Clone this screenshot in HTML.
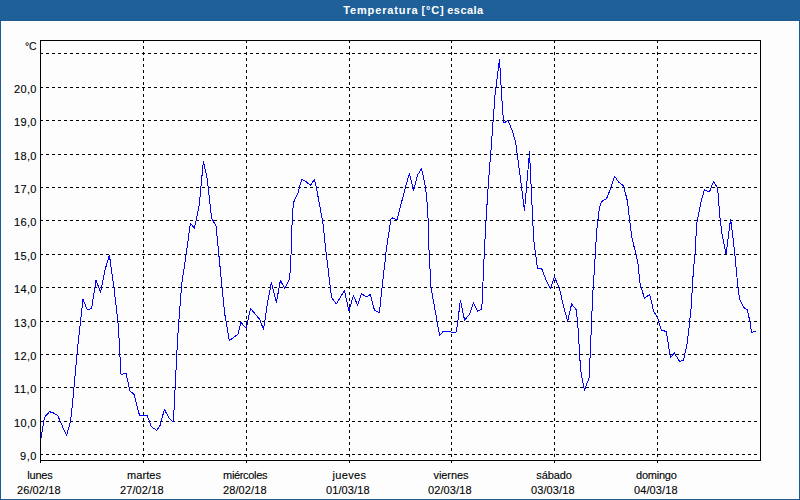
<!DOCTYPE html>
<html><head><meta charset="utf-8"><title>Temperatura [°C] escala</title>
<style>
html,body{margin:0;padding:0;width:800px;height:500px;overflow:hidden;background:#fcfdfc;}
svg{position:absolute;left:0;top:0;display:block}
text{font-family:"Liberation Sans",sans-serif;font-size:11px;fill:#000;stroke:#000;stroke-width:0.1px}
.t{font-weight:bold;fill:#fff;stroke:none}
</style></head><body>
<svg width="800" height="500" viewBox="0 0 800 500">
<defs><pattern id="dz" width="4" height="4" patternUnits="userSpaceOnUse"><rect width="4" height="4" fill="#1e5f96"/><rect x="0" y="1" width="1" height="1" fill="#2161ae"/><rect x="2" y="3" width="1" height="1" fill="#2161ae"/></pattern></defs>
<rect x="0" y="0" width="800" height="500" fill="#fcfdfc"/>
<g shape-rendering="crispEdges">
<rect x="0" y="0" width="800" height="20" fill="url(#dz)"/>
<rect x="0" y="20" width="800" height="1" fill="#1b5c94"/>
<rect x="0" y="20" width="1" height="480" fill="#1b5c94"/>
<rect x="799" y="20" width="1" height="480" fill="#1b5c94"/>
<rect x="0" y="499" width="800" height="1" fill="#1b5c94"/>
<rect x="1" y="21" width="798" height="1" fill="#fff"/><rect x="1" y="498" width="798" height="1" fill="#fff"/><rect x="1" y="21" width="1" height="478" fill="#fff"/><rect x="798" y="21" width="1" height="478" fill="#fff"/>
<line x1="40" y1="53.5" x2="760" y2="53.5" stroke="#000" stroke-width="1" stroke-dasharray="3 3"/>
<line x1="40" y1="87.5" x2="760" y2="87.5" stroke="#000" stroke-width="1" stroke-dasharray="3 3"/>
<line x1="40" y1="120.5" x2="760" y2="120.5" stroke="#000" stroke-width="1" stroke-dasharray="3 3"/>
<line x1="40" y1="154.5" x2="760" y2="154.5" stroke="#000" stroke-width="1" stroke-dasharray="3 3"/>
<line x1="40" y1="187.5" x2="760" y2="187.5" stroke="#000" stroke-width="1" stroke-dasharray="3 3"/>
<line x1="40" y1="220.5" x2="760" y2="220.5" stroke="#000" stroke-width="1" stroke-dasharray="3 3"/>
<line x1="40" y1="254.5" x2="760" y2="254.5" stroke="#000" stroke-width="1" stroke-dasharray="3 3"/>
<line x1="40" y1="287.5" x2="760" y2="287.5" stroke="#000" stroke-width="1" stroke-dasharray="3 3"/>
<line x1="40" y1="321.5" x2="760" y2="321.5" stroke="#000" stroke-width="1" stroke-dasharray="3 3"/>
<line x1="40" y1="354.5" x2="760" y2="354.5" stroke="#000" stroke-width="1" stroke-dasharray="3 3"/>
<line x1="40" y1="387.5" x2="760" y2="387.5" stroke="#000" stroke-width="1" stroke-dasharray="3 3"/>
<line x1="40" y1="421.5" x2="760" y2="421.5" stroke="#000" stroke-width="1" stroke-dasharray="3 3"/>
<line x1="40" y1="454.5" x2="760" y2="454.5" stroke="#000" stroke-width="1" stroke-dasharray="3 3"/>
<line x1="143.5" y1="40" x2="143.5" y2="463" stroke="#000" stroke-width="1" stroke-dasharray="3 3"/>
<line x1="246.5" y1="40" x2="246.5" y2="463" stroke="#000" stroke-width="1" stroke-dasharray="3 3"/>
<line x1="349.5" y1="40" x2="349.5" y2="463" stroke="#000" stroke-width="1" stroke-dasharray="3 3"/>
<line x1="451.5" y1="40" x2="451.5" y2="463" stroke="#000" stroke-width="1" stroke-dasharray="3 3"/>
<line x1="554.5" y1="40" x2="554.5" y2="463" stroke="#000" stroke-width="1" stroke-dasharray="3 3"/>
<line x1="657.5" y1="40" x2="657.5" y2="463" stroke="#000" stroke-width="1" stroke-dasharray="3 3"/>
<rect x="40" y="40" width="721" height="1" fill="#000"/>
<rect x="40" y="460" width="721" height="1" fill="#000"/>
<rect x="40" y="40" width="1" height="423" fill="#000"/>
<rect x="760" y="40" width="1" height="421" fill="#000"/>
</g>
<polyline shape-rendering="crispEdges" fill="none" stroke="#0000ff" stroke-width="1" stroke-linejoin="round" points="41.0,438.0 44.5,417.3 49.5,411.7 53.5,413.0 57.5,415.2 66.5,435.5 70.6,421.0 73.1,397.4 75.6,370.0 77.4,350.0 83.0,299.4 87.4,310.0 91.6,308.4 96.0,280.4 100.6,292.0 105.0,270.0 109.4,255.0 114.0,288.0 118.4,326.0 119.6,350.0 121.0,374.4 126.0,373.4 130.0,391.0 134.0,394.4 139.4,415.0 143.0,416.0 147.0,415.0 151.4,426.6 156.6,430.4 160.0,425.6 164.4,409.4 169.0,418.0 173.4,422.0 177.6,338.0 181.7,284.0 186.0,255.5 190.4,223.0 194.4,228.4 199.4,204.0 201.4,182.0 203.4,161.0 207.4,180.0 211.6,218.0 216.0,226.0 220.3,269.5 224.6,313.0 229.3,340.5 237.8,334.5 241.0,322.5 246.2,328.5 250.5,308.5 259.8,319.5 263.5,329.5 268.0,300.0 271.4,282.4 276.4,302.4 280.4,280.4 284.6,288.4 289.0,280.0 290.4,270.0 291.2,250.0 292.4,214.0 293.6,202.4 298.0,193.0 301.6,179.4 306.0,181.4 310.4,185.6 314.4,179.4 316.6,189.0 320.0,207.0 323.0,224.0 325.8,250.0 331.0,293.0 332.0,298.0 336.4,304.0 344.4,290.6 349.0,311.0 353.4,295.6 357.6,305.0 361.6,293.6 366.4,297.0 370.4,294.4 374.4,310.0 379.4,312.6 382.0,288.0 385.0,262.0 386.2,250.0 391.0,219.0 392.4,218.0 397.0,220.0 405.4,187.4 409.4,173.4 413.6,191.0 417.6,175.0 421.6,168.6 425.6,188.0 427.4,206.0 428.6,230.0 429.0,250.0 431.0,287.4 439.6,335.4 443.6,331.0 448.0,331.0 452.0,332.4 456.4,332.0 458.0,320.0 460.4,300.0 464.6,320.4 469.6,314.0 473.4,303.0 477.6,311.4 481.4,309.4 482.4,300.0 483.0,282.0 484.4,250.0 486.4,214.0 488.6,180.0 491.0,150.0 492.1,135.0 495.1,94.0 499.5,59.6 501.0,85.0 502.6,110.0 503.6,123.0 508.0,120.6 512.0,130.0 515.6,142.0 516.6,150.0 520.2,176.5 524.5,210.5 529.5,152.0 533.7,240.0 537.5,268.4 541.6,268.4 546.0,280.0 550.4,288.4 554.4,277.0 559.4,288.0 563.0,304.0 567.6,321.4 571.6,304.0 576.4,310.0 578.0,328.0 580.6,370.0 584.4,390.4 589.0,378.0 590.4,350.0 591.6,320.0 593.0,290.0 594.4,270.0 595.5,250.0 597.0,228.0 599.4,208.0 601.4,201.6 606.6,198.6 610.4,189.0 614.6,176.4 619.0,182.4 623.6,186.0 627.4,201.0 629.6,220.0 631.6,236.0 633.6,245.0 636.0,254.0 638.0,264.0 640.0,283.0 644.4,298.4 649.6,294.4 653.6,311.0 657.6,318.0 661.2,330.0 666.4,331.6 670.4,357.6 674.4,353.0 679.6,361.6 683.6,360.0 687.0,344.0 689.0,328.0 691.2,307.0 693.4,270.0 695.4,250.0 696.0,236.0 697.0,222.0 701.0,202.0 704.4,189.6 709.4,192.0 713.6,181.4 717.6,188.0 720.0,218.0 722.0,234.0 726.0,254.4 730.6,219.0 732.6,234.0 735.0,256.0 738.0,288.0 739.6,299.4 743.6,307.4 747.4,310.0 750.0,322.0 751.6,332.4 756.0,331.0"/>
<text class="t" x="343.2" y="14" textLength="74.5" lengthAdjust="spacing">Temperatura</text>
<text class="t" x="421.5" y="14" textLength="22.2" lengthAdjust="spacing">[°C]</text>
<text class="t" x="447.2" y="14" textLength="36" lengthAdjust="spacing">escala</text>
<text x="24.9" y="50" textLength="11.8" lengthAdjust="spacingAndGlyphs">°C</text>
<text x="14.00" y="93" textLength="22.4" lengthAdjust="spacing">20,0</text>
<text x="14.00" y="126" textLength="22.4" lengthAdjust="spacing">19,0</text>
<text x="14.00" y="160" textLength="22.4" lengthAdjust="spacing">18,0</text>
<text x="14.00" y="193" textLength="22.4" lengthAdjust="spacing">17,0</text>
<text x="14.00" y="226" textLength="22.4" lengthAdjust="spacing">16,0</text>
<text x="14.00" y="260" textLength="22.4" lengthAdjust="spacing">15,0</text>
<text x="14.00" y="293" textLength="22.4" lengthAdjust="spacing">14,0</text>
<text x="14.00" y="327" textLength="22.4" lengthAdjust="spacing">13,0</text>
<text x="14.00" y="360" textLength="22.4" lengthAdjust="spacing">12,0</text>
<text x="14.00" y="393" textLength="22.4" lengthAdjust="spacing">11,0</text>
<text x="14.00" y="427" textLength="22.4" lengthAdjust="spacing">10,0</text>
<text x="20.00" y="460" textLength="16.4" lengthAdjust="spacing">9,0</text>
<text x="27.20" y="479" textLength="25.6" lengthAdjust="spacing">lunes</text>
<text x="16.999999999999996" y="494" textLength="43.6" lengthAdjust="spacing">26/02/18</text>
<text x="127.05" y="479" textLength="33.9" lengthAdjust="spacing">martes</text>
<text x="120.00000000000001" y="494" textLength="43.6" lengthAdjust="spacing">27/02/18</text>
<text x="223.05" y="479" textLength="44.4" lengthAdjust="spacing">miércoles</text>
<text x="223.0" y="494" textLength="43.6" lengthAdjust="spacing">28/02/18</text>
<text x="332.50" y="479" textLength="33.5" lengthAdjust="spacing">jueves</text>
<text x="326.0" y="494" textLength="43.6" lengthAdjust="spacing">01/03/18</text>
<text x="433.50" y="479" textLength="35.0" lengthAdjust="spacing">viernes</text>
<text x="428.0" y="494" textLength="43.6" lengthAdjust="spacing">02/03/18</text>
<text x="536.25" y="479" textLength="35.7" lengthAdjust="spacing">sábado</text>
<text x="531.0" y="494" textLength="43.6" lengthAdjust="spacing">03/03/18</text>
<text x="636.05" y="479" textLength="40.7" lengthAdjust="spacing">domingo</text>
<text x="634.0" y="494" textLength="43.6" lengthAdjust="spacing">04/03/18</text>
</svg>
</body></html>
